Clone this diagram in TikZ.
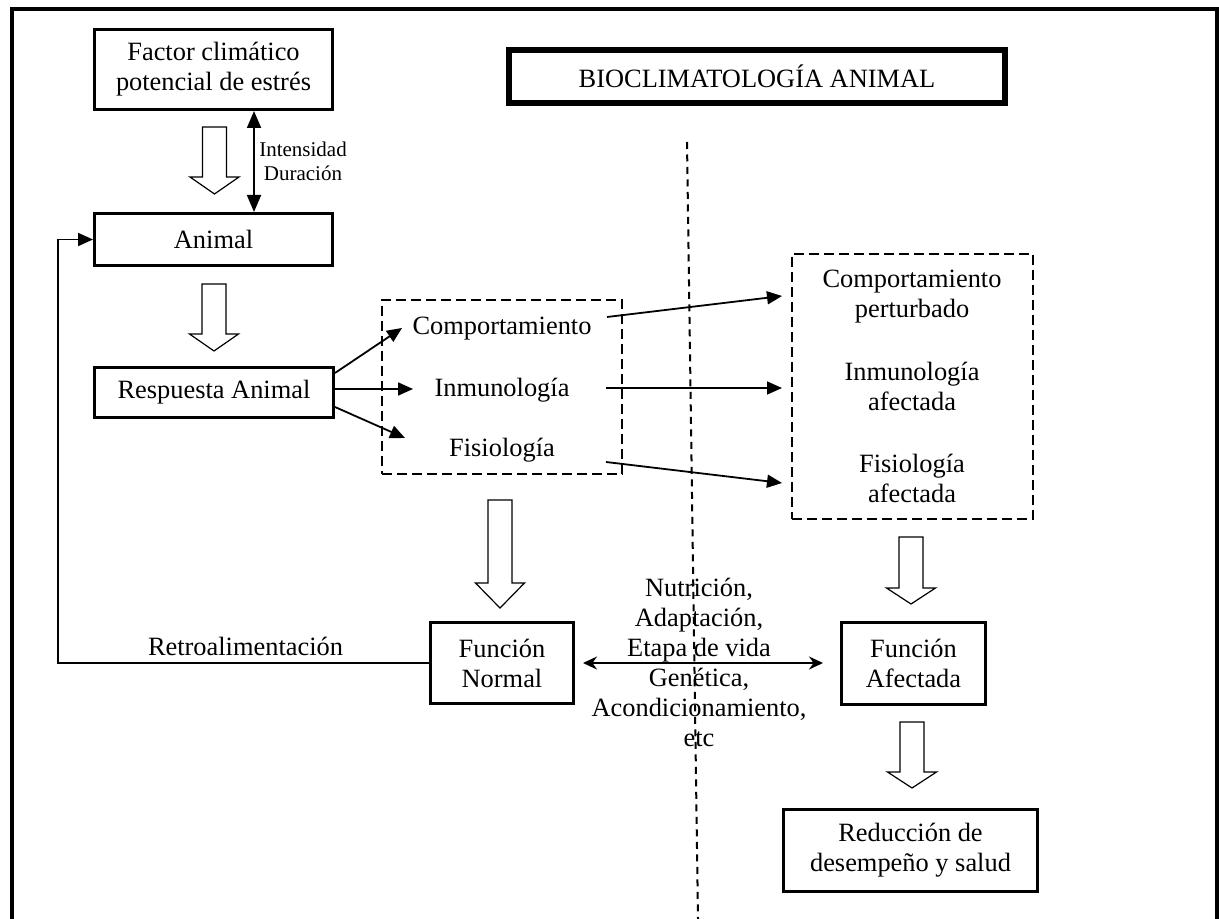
\documentclass[tikz,border=0pt]{standalone}
\usepackage{fontspec}
\setmainfont{Liberation Serif}
\usetikzlibrary{arrows.meta}
\newcommand\myMain{\fontsize{13.2pt}{15pt}\selectfont}
\newcommand\mySmall{\fontsize{10.5pt}{11.7pt}\selectfont}
\newcommand\bigarrow[4]{\draw[blockarr] (#1-12,#2) -- (#1+12,#2) -- (#1+12,#3) -- (#1+24.5,#3) -- (#1,#4) -- (#1-24.5,#3) -- (#1-12,#3) -- cycle;}
\tikzset{
  box/.style={draw, line width=1.5pt, align=center, inner sep=0pt, font=\myMain},
  dbox/.style={draw, line width=1pt, dash pattern=on 5pt off 2.5pt, inner sep=0pt},
  txt/.style={align=center, inner sep=0pt, font=\myMain},
  arr/.style={-{Triangle[length=7.5pt,width=6.5pt]}, line width=0.9pt},
  dblv/.style={{Triangle[length=8.5pt,width=7pt]}-{Triangle[length=8.5pt,width=7pt]}, line width=0.9pt},
  dblh/.style={{Stealth[length=7pt,width=6.5pt]}-{Stealth[length=7pt,width=6.5pt]}, line width=0.9pt},
  blockarr/.style={draw, line width=0.6pt, fill=white},
  vdash/.style={line width=1pt, dash pattern=on 3.5pt off 2.75pt},
  frame/.style={line width=1.75pt}
}
\begin{document}
\begin{tikzpicture}[x=0.5pt,y=-0.5pt]
\useasboundingbox (0,0) rectangle (1219,919);
% outer frame (open at bottom)
\draw[frame] (12,919) -- (12,9) -- (1217,9) -- (1217,919);

% vertical dashed separator
\coordinate (vtop) at (687,142);
\coordinate (vbot) at (698,919);
\draw[vdash] (vtop) -- (vbot);

% boxes
\node[box, minimum width=119pt, minimum height=40pt] (factor) at (213.5,69.5) {Factor climático\\potencial de estrés};
\node[box, line width=3pt, minimum width=248pt, minimum height=26.5pt] (title) at (757,76.5) {BIOCLIMATOLOGÍA ANIMAL};
\node[box, minimum width=119pt, minimum height=26pt] (animal) at (213.5,239.5) {Animal};
\node[box, minimum width=119.5pt, minimum height=25pt] (resp) at (214,392.5) {Respuesta Animal};

\node[dbox, minimum width=120pt, minimum height=87pt] (d1) at (502,387) {};
\node[txt, anchor=base] (comp) at (502,335) {Comportamiento};
\node[txt, anchor=base] (inmu) at (502,396.5) {Inmunología};
\node[txt, anchor=base] (fisio) at (502,456.5) {Fisiología};

\node[dbox, minimum width=120.5pt, minimum height=132.5pt] (d2) at (912.5,386.5) {};
\node[txt] (compP) at (912,297) {Comportamiento\\perturbado};
\node[txt] (inmuA) at (912,386.5) {Inmunología\\afectada};
\node[txt] (fisioA) at (912,478) {Fisiología\\afectada};

\node[box, minimum width=71.5pt, minimum height=40.5pt] (fnormal) at (502,663) {Función\\Normal};
\node[box, minimum width=72pt, minimum height=41pt] (fafect) at (913.5,663.5) {Función\\Afectada};
\node[box, minimum width=127pt, minimum height=41pt] (reduc) at (910.5,850.5) {Reducción de\\desempeño y salud};

\node[txt] (factors) at (699,662) {Nutrición,\\Adaptación,\\Etapa de vida\\Genética,\\Acondicionamiento,\\etc};
\node[txt, font=\mySmall] (intdur) at (303,161.4) {Intensidad\\Duración};
\node[txt, anchor=base] (retro) at (245.5,655.5) {Retroalimentación};

% block arrows
\bigarrow{214.5}{127}{177}{194}
\bigarrow{214}{284}{334}{351}
\bigarrow{500}{500}{583}{608}
\bigarrow{911}{537}{588}{604}
\bigarrow{912}{722}{772}{788}

% intensity / duration double arrow
\coordinate (ida) at (254,0);
\draw[dblv] (factor.south -| ida) -- (animal.north -| ida);

% feedback
\coordinate (fbx) at (58,0);
\draw[arr] (fnormal.west) -- (fnormal.west -| fbx) |- (animal.west);

% response fan
\coordinate (t1) at (402,328);
\coordinate (t2) at (413,389);
\coordinate (t3) at (405,438);
\draw[arr] ([yshift=9.75pt]resp.east) -- (t1);
\draw[arr] ([yshift=1.75pt]resp.east) -- (t2);
\draw[arr] ([yshift=-7.25pt]resp.east) -- (t3);

% to affected box
\coordinate (s1) at (607,317);
\coordinate (s2) at (606,388);
\coordinate (s3) at (606,462);
\coordinate (e1) at (782,296);
\coordinate (e2) at (782,388);
\coordinate (e3) at (782,483);
\draw[arr] (s1) -- (e1);
\draw[arr] (s2) -- (e2);
\draw[arr] (s3) -- (e3);

% horizontal double arrow
\coordinate (hl) at ([xshift=4pt]fnormal.east);
\coordinate (hr) at ([xshift=-8.5pt]fafect.west);
\draw[dblh] (hl) -- (hr |- hl);
\end{tikzpicture}
\end{document}
